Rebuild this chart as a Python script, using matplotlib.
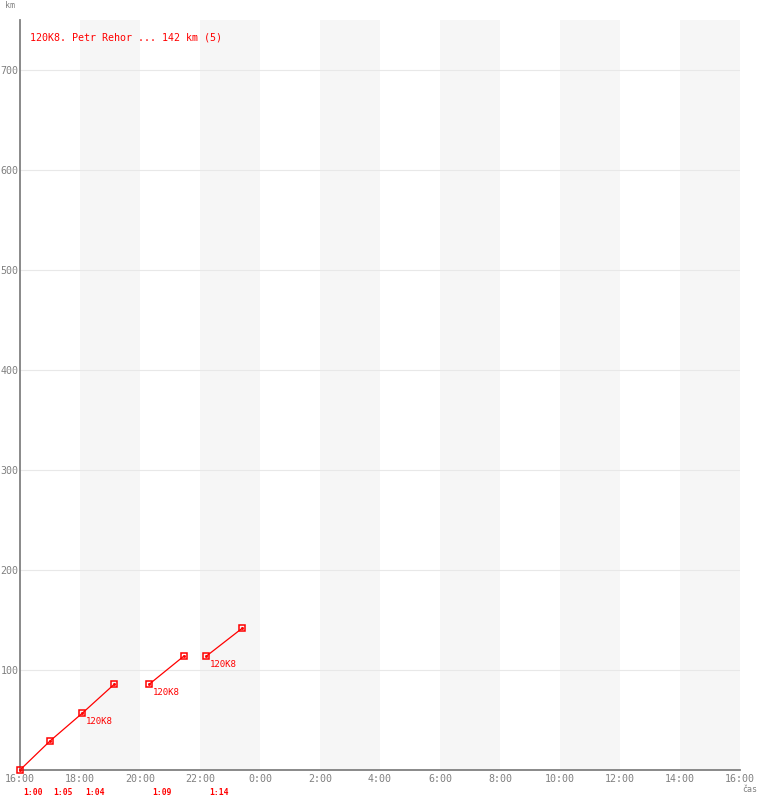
import matplotlib
matplotlib.use('Agg')
import matplotlib.pyplot as plt

# flight legs (time of day, km)
leg_times = [["16:00", "17:00", "18:05", "19:09"],
             ["20:19", "21:28"],
             ["22:13", "23:25"]]
leg_km = [[0, 29, 57, 86],
          [86, 114],
          [114, 142]]

# leg durations shown under the axis
dur_starts = ["16:00", "17:00", "18:05", "20:19", "22:13"]
dur_labels = ["1:00", "1:05", "1:04", "1:09", "1:14"]

# pilot tags on the chart
tag_times = ["18:05", "20:19", "22:13"]
tag_km = [57, 86, 114]
tag_text = "120K8"

title = "120K8. Petr Rehor ... 142 km (5)"
y_ticks = [100, 200, 300, 400, 500, 600, 700]
start_hour = 16

RED = '#ff0000'
GRAY = '#808080'
MONO = 'DejaVu Sans Mono'


def hrs(s):
    h, m = s.split(':')
    return (int(h) + int(m) / 60 - start_hour) % 24


fig = plt.figure(figsize=(7.6, 8), dpi=100)
ax = fig.add_axes([20 / 760, 30 / 800, 720 / 760, 750 / 800])
ax.set_xlim(0, 24)
ax.set_ylim(0, 750)

# shaded 2-hour bands
for b in range(2, 24, 4):
    ax.axvspan(b, b + 2, color='#f6f6f6', lw=0, zorder=0)
for y in y_ticks:
    ax.axhline(y, color='#e8e8e8', lw=0.8, zorder=1)

for t, k in zip(leg_times, leg_km):
    xs = [hrs(s) for s in t]
    ax.plot(xs, k, color=RED, lw=0.9, zorder=3, clip_on=False)
    ax.plot(xs, k, 's', ms=5, mfc='none', mec=RED, mew=1.1, zorder=4, clip_on=False)
    ax.plot(xs, k, 's', ms=1, color=RED, zorder=5, clip_on=False)

for t, k in zip(tag_times, tag_km):
    ax.annotate(tag_text, (hrs(t), k), xytext=(3, -4), textcoords='offset pixels',
                ha='left', va='top', color=RED, fontsize=6.5, family=MONO, zorder=5)

for t, lab in zip(dur_starts, dur_labels):
    ax.annotate(lab, (hrs(t), 0), xytext=(3, -18), textcoords='offset pixels',
                ha='left', va='top', color=RED, fontsize=5.8, family=MONO,
                fontweight='bold', annotation_clip=False)

ax.text(10 / 720, 1 - 18 / 750, title, transform=ax.transAxes, color=RED,
        fontsize=7.2, family=MONO, va='center', ha='left')

ax.set_yticks(y_ticks)
ax.set_yticklabels([str(y) for y in y_ticks])
xt = list(range(0, 25, 2))
ax.set_xticks(xt)
ax.set_xticklabels(["%d:00" % ((start_hour + t) % 24) for t in xt])
ax.tick_params(length=0, labelsize=7.2, labelcolor=GRAY)
ax.tick_params(axis='y', pad=1)
ax.tick_params(axis='x', pad=3)
for lab in ax.get_xticklabels() + ax.get_yticklabels():
    lab.set_family(MONO)

for s in ['top', 'right']:
    ax.spines[s].set_visible(False)
for s in ['left', 'bottom']:
    ax.spines[s].set_color(GRAY)
    ax.spines[s].set_linewidth(1.3)

fig.text(5 / 760, 1 - 6 / 800, "km", color=GRAY, fontsize=6, family=MONO, va='center')
fig.text(742 / 760, 1 - 790 / 800, "čas", color=GRAY, fontsize=6, family=MONO, va='center')

fig.savefig('out.png', dpi=100, facecolor='white')
